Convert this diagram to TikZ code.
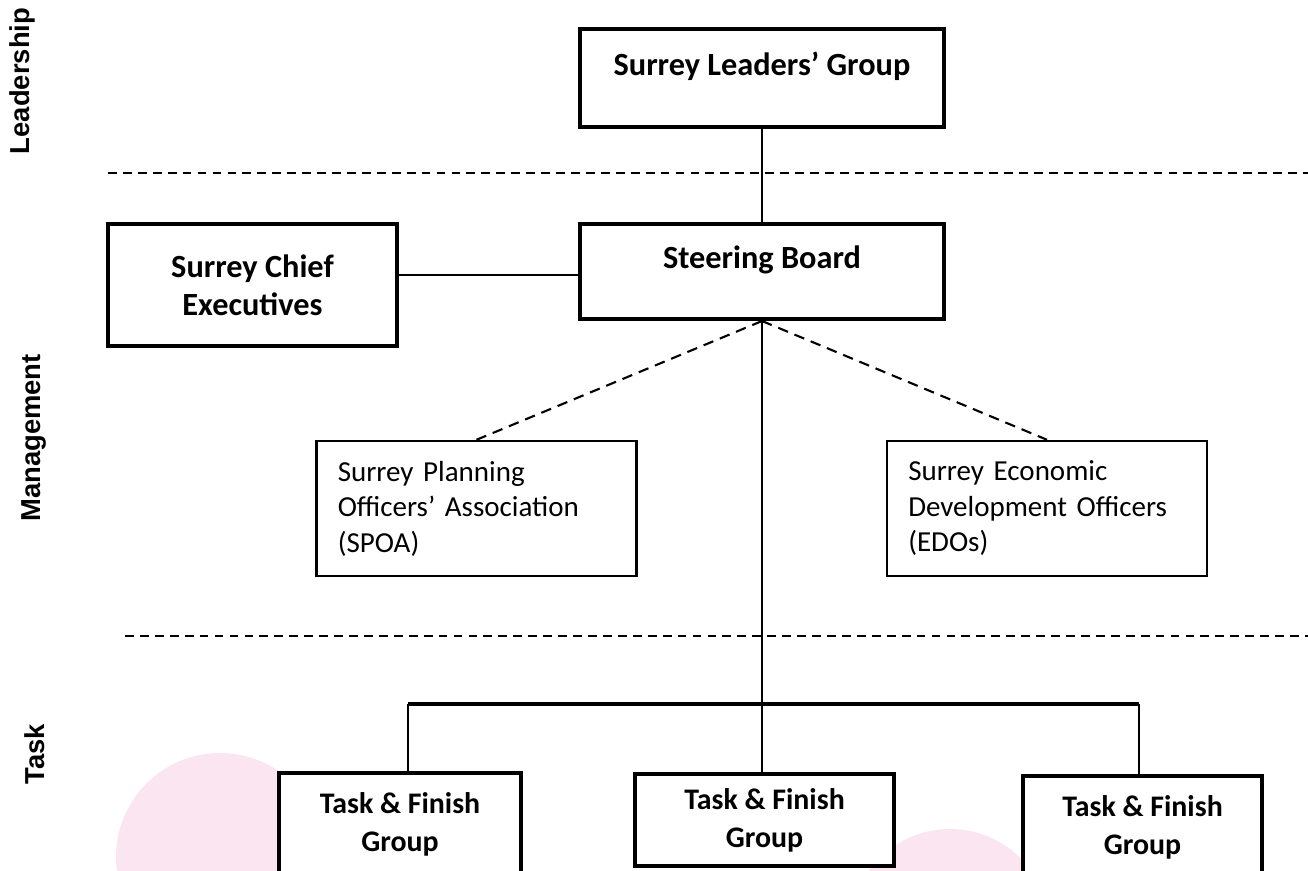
\documentclass[tikz,border=0pt]{standalone}
\usepackage{fontspec}
\setmainfont{Carlito}
\newfontfamily\sidefont{Liberation Sans}
\usetikzlibrary{positioning,calc}
\definecolor{blush}{RGB}{250,229,240}

\begin{document}
\begin{tikzpicture}[
    mainbox/.style={rectangle, draw=black, fill=white, line width=2.3pt, align=center, font=\fontsize{17}{21.5}\selectfont\bfseries},
    topbox/.style={mainbox, font=\fontsize{18.4}{21.5}\selectfont\bfseries},
    subbox/.style={rectangle, draw=black, fill=white, line width=1.4pt, minimum width=6.4cm, minimum height=2.7cm, text width=5.55cm, align=left, font=\fontsize{16.5}{20.2}\selectfont},
    tier/.style={rotate=90, font=\sidefont\fontsize{15.6}{18}\selectfont\bfseries},
    divider/.style={line width=1.1pt, dash pattern=on 5pt off 3.5pt},
    link/.style={line width=1.2pt},
    dotlink/.style={link, dash pattern=on 6pt off 4pt}
]
    % page and background blobs
    \clip (0,0) rectangle (26.16,-17.4);
    \fill[white] (0,0) rectangle (26.16,-17.4);
    \fill[blush] (4.4,-17.14) circle (2.08);
    \fill[blush] (19.0,-18.58) circle (2.0);

    % tier labels
    \node[tier] (lead) at (0.44,-1.62) {Leadership};
    \node[tier] (manage) at (0.68,-8.76) {Management};
    \node[tier] (task) at (0.70,-15.08) {Task};

    % tier dividers
    \coordinate (topa) at (2.16,-3.46);
    \coordinate (topb) at (26.2,-3.46);
    \coordinate (lowa) at (2.5,-12.72);
    \coordinate (lowb) at (26.2,-12.72);
    \draw[divider] (topa) -- (topb);
    \draw[divider] (lowa) -- (lowb);

    % boxes
    \node[topbox, minimum width=7.28cm, minimum height=1.96cm, inner ysep=0pt, text height=0.92cm, text depth=1.04cm] (leaders) at (15.24,-1.56) {Surrey Leaders’ Group};
    \node[topbox, minimum width=7.28cm, minimum height=1.9cm, inner ysep=0pt, text height=0.88cm, text depth=1.02cm] (steer) at (15.24,-5.43) {Steering Board};
    \node[topbox, minimum width=5.78cm, minimum height=2.44cm] (chief) at (5.05,-5.70) {Surrey Chief\\Executives};
    \node[subbox] (spoa) at (9.53,-10.17) {Surrey Planning\\Officers’ Association\\(SPOA)};
    \node[subbox] (edo) at (20.94,-10.17) {Surrey Economic\\Development Officers\\(EDOs)};
    \node[mainbox, minimum width=4.84cm, minimum height=2.04cm] (tfleft) at (8.0,-16.48) {Task \& Finish\\Group};
    \node[mainbox, minimum width=5.18cm, minimum height=1.84cm] (tfmid) at (15.29,-16.4) {Task \& Finish\\Group};
    \node[mainbox, minimum width=4.78cm, minimum height=2.04cm] (tfright) at (22.85,-16.54) {Task \& Finish\\Group};

    % connectors
    \draw[link] (leaders) -- (steer);
    \draw[link] ([yshift=-0.07cm]chief.east |- steer.west) -- ([yshift=-0.07cm]steer.west);
    \draw[dotlink] (steer.south) -- (spoa.north);
    \draw[dotlink] (steer.south) -- (edo.north);
    \draw[link] (steer.south) -- (steer.south |- tfmid.north);
    \coordinate (barL) at (8.16,-14.08);
    \coordinate (barR) at (22.78,-14.08);
    \draw[line width=2pt] (barL) -- (barR);
    \draw[link] (barL) -- (barL |- tfleft.north);
    \draw[link] (barR) -- (barR |- tfright.north);
\end{tikzpicture}
\end{document}
